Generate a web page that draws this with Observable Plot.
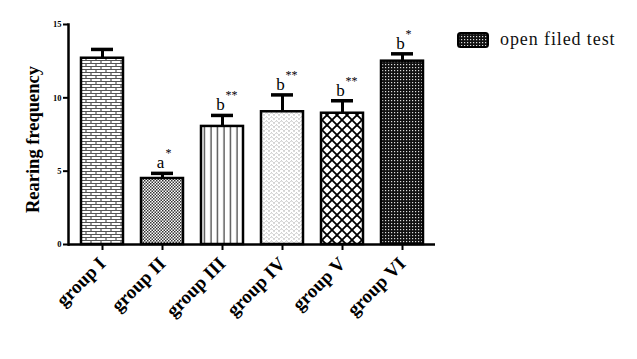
<!DOCTYPE html>
<html>
<head>
<meta charset="utf-8">
<script src="https://cdn.jsdelivr.net/npm/d3@7"></script>
<script src="https://cdn.jsdelivr.net/npm/@observablehq/plot@0.6"></script>
<style>
  html, body { margin: 0; padding: 0; background: #fff; }
  #wrap { position: relative; width: 637px; height: 359px; }
  #legend { position: absolute; left: 457px; top: 29px; display: flex; align-items: center;
            font-family: "Liberation Serif", "Times New Roman", serif; font-size: 18px; letter-spacing: 0.9px; color: #111; }
  #legend svg { margin-right: 11px; }
</style>
</head>
<body>
<div id="wrap"><div id="legend"></div></div>
<script>
const groups = ["group I", "group II", "group III", "group IV", "group V", "group VI"];
const means = [12.7, 4.5, 8.05, 9.05, 8.95, 12.5];
const sems = [0.6, 0.35, 0.75, 1.15, 0.85, 0.5];
const letters = ["", "a", "b", "b", "b", "b"];
const stars = ["", "*", "**", "**", "**", "*"];
const patternIds = ["brick", "checker", "vlines", "dots", "diamond", "dense"];
const yTicks = [0, 5, 10, 15];
const legendLabel = "open filed test";

const data = groups.map((g, i) => ({
  group: g, mean: means[i], sem: sems[i], letter: letters[i], star: stars[i], pat: patternIds[i]
}));
const serif = "Liberation Serif, Times New Roman, serif";

const plot = Plot.plot({
  width: 637,
  height: 359,
  marginLeft: 68,
  marginRight: 202,
  marginTop: 24,
  marginBottom: 115,
  style: { fontFamily: serif, background: "#fff", color: "#000" },
  color: { type: "identity" },
  x: { domain: groups, paddingInner: 0.306, paddingOuter: 0.19, label: null },
  y: { domain: [0, 15], label: null },
  marks: [
    Plot.ruleX(data, { x: "group", y1: "mean", y2: d => d.mean + d.sem, strokeWidth: 3 }),
    Plot.tickY(data, { x: "group", y: d => d.mean + d.sem, inset: 10, strokeWidth: 3.5 }),
    Plot.barY(data, { x: "group", y: "mean", fill: d => `url(#pat-${d.pat})`, stroke: "#000", strokeWidth: 2.5 }),
    Plot.text(data.filter(d => d.letter), { x: "group", y: d => d.mean + d.sem, text: "letter",
      textAnchor: "middle", lineAnchor: "bottom", dx: -2, dy: -5, fontSize: 17, fontFamily: serif }),
    Plot.text(data.filter(d => d.star), { x: "group", y: d => d.mean + d.sem, text: "star",
      textAnchor: "start", lineAnchor: "bottom", dx: 3, dy: -16, fontSize: 12, fontFamily: serif }),
    Plot.ruleY([0], { strokeWidth: 2.5 }),
    Plot.frame({ anchor: "left", strokeWidth: 2.5 }),
    Plot.axisY({ ticks: yTicks, tickSize: 5, tickPadding: 2, tickFormat: d => d, strokeWidth: 2,
      fontSize: 8.5, fontWeight: "bold", label: null }),
    Plot.axisX({ tickSize: 6, tickPadding: 10, strokeWidth: 2, tickRotate: -45, fontSize: 19,
      fontWeight: "bold", label: null }),
    Plot.text(["Rearing frequency"], { frameAnchor: "left", textAnchor: "middle", dx: -35, dy: 5, rotate: -90, text: d => d,
      fontSize: 18.5, fontWeight: "bold", fontFamily: serif })
  ]
});

function addDefs(svgSel) {
  const defs = svgSel.insert("defs", ":first-child");
  // brick
  let p = defs.append("pattern").attr("id", "pat-brick").attr("patternUnits", "userSpaceOnUse")
    .attr("width", 10).attr("height", 6);
  p.append("rect").attr("width", 10).attr("height", 6).attr("fill", "#fff");
  p.append("path").attr("d", "M0,0.5H10M0,3.5H10M1,0.5V3.5M6,3.5V6.5").attr("stroke", "#555").attr("stroke-width", 1.2);
  // fine checker
  p = defs.append("pattern").attr("id", "pat-checker").attr("patternUnits", "userSpaceOnUse")
    .attr("width", 3).attr("height", 3);
  p.append("rect").attr("width", 3).attr("height", 3).attr("fill", "#fff");
  p.append("rect").attr("width", 1.5).attr("height", 1.5).attr("fill", "#333");
  p.append("rect").attr("x", 1.5).attr("y", 1.5).attr("width", 1.5).attr("height", 1.5).attr("fill", "#333");
  // vertical lines
  p = defs.append("pattern").attr("id", "pat-vlines").attr("patternUnits", "userSpaceOnUse")
    .attr("width", 6.5).attr("height", 6);
  p.append("rect").attr("width", 6.5).attr("height", 6).attr("fill", "#fff");
  p.append("path").attr("d", "M3,0V6").attr("stroke", "#222").attr("stroke-width", 1.1);
  // light dots
  p = defs.append("pattern").attr("id", "pat-dots").attr("patternUnits", "userSpaceOnUse")
    .attr("width", 5).attr("height", 4);
  p.append("rect").attr("width", 5).attr("height", 4).attr("fill", "#fff");
  p.append("path").attr("d", "M0.5,1.5L1.5,0.8L2.5,1.5M3,3.3L4,2.6L5,3.3").attr("stroke", "#999").attr("stroke-width", 0.8).attr("fill", "none");
  // diamond crosshatch
  p = defs.append("pattern").attr("id", "pat-diamond").attr("patternUnits", "userSpaceOnUse")
    .attr("width", 10).attr("height", 10).attr("x", 2);
  p.append("rect").attr("width", 10).attr("height", 10).attr("fill", "#fff");
  p.append("path").attr("d", "M-1,-1L11,11M-1,11L11,-1M4,-6L16,6M-6,4L6,16M-6,6L6,-6M4,16L16,4").attr("stroke", "#000").attr("stroke-width", 1.8);
  // dense dark
  p = defs.append("pattern").attr("id", "pat-dense").attr("patternUnits", "userSpaceOnUse")
    .attr("width", 3).attr("height", 3);
  p.append("rect").attr("width", 3).attr("height", 3).attr("fill", "#111");
  p.append("rect").attr("x", 1).attr("y", 1).attr("width", 1.2).attr("height", 1.2).attr("fill", "#ddd");
}
addDefs(d3.select(plot));
document.getElementById("wrap").prepend(plot);

// legend
const legend = d3.select("#legend");
const sw = legend.append("svg").attr("width", 32).attr("height", 16);
addDefs(sw);
sw.append("rect").attr("x", 1).attr("y", 1).attr("width", 30).attr("height", 14).attr("rx", 2.5)
  .attr("fill", "url(#pat-dense)").attr("stroke", "#000").attr("stroke-width", 2);
legend.append("span").text(legendLabel);
</script>
</body>
</html>
